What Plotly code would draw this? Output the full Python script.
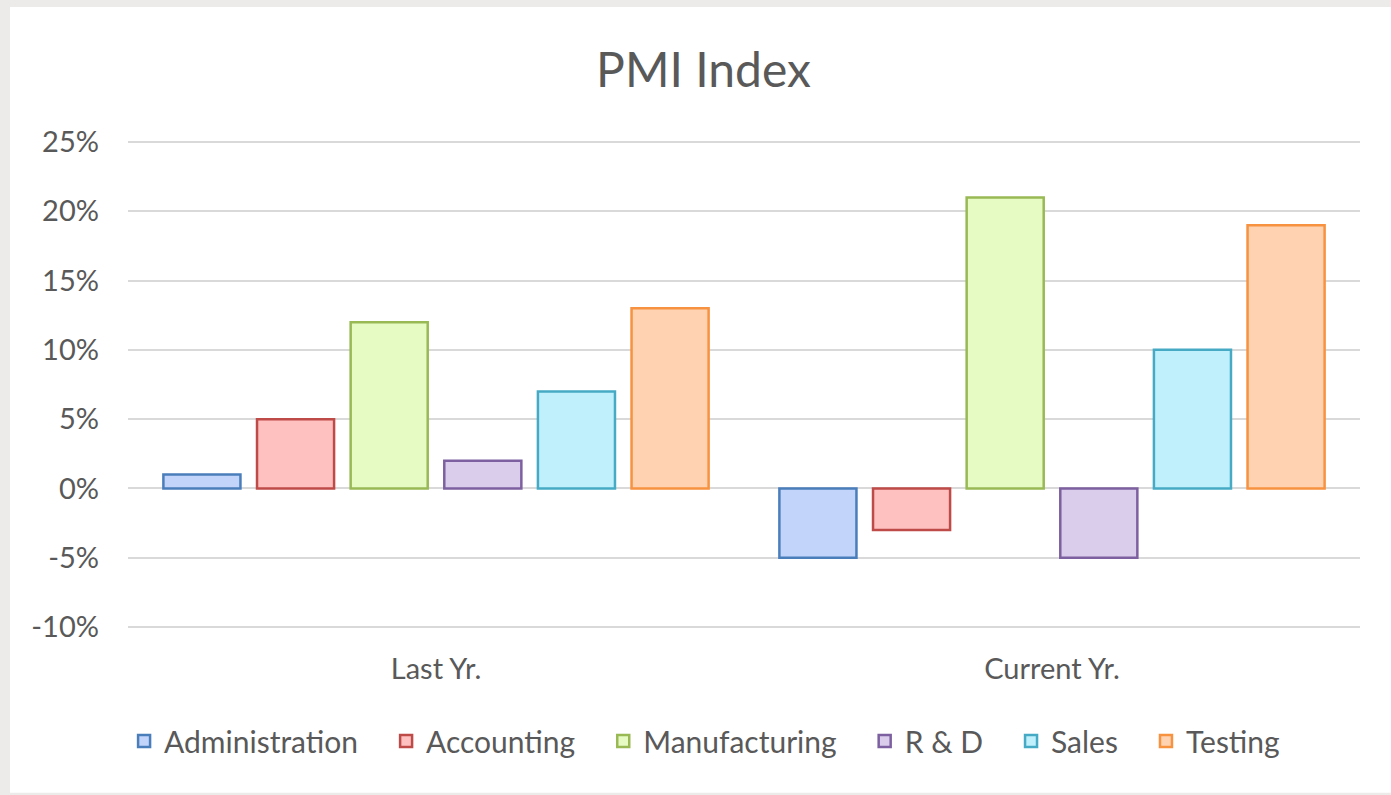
import plotly.graph_objects as go

categories = ["Last Yr.", "Current Yr."]
series_names = ["Administration", "Accounting", "Manufacturing", "R & D", "Sales", "Testing"]
administration = [0.01, -0.05]
accounting = [0.05, -0.03]
manufacturing = [0.12, 0.21]
r_and_d = [0.02, -0.05]
sales = [0.07, 0.10]
testing = [0.13, 0.19]
tick_values = [-0.10, -0.05, 0.0, 0.05, 0.10, 0.15, 0.20, 0.25]
tick_labels = ["-10%", "-5%", "0%", "5%", "10%", "15%", "20%", "25%"]

series_values = [administration, accounting, manufacturing, r_and_d, sales, testing]
fill_colors = ["#c2d4fa", "#ffc0c0", "#e6fbc4", "#dacdec", "#c0f0fc", "#ffd3b2"]
line_colors = ["#4a7ebb", "#be4b48", "#98b954", "#7d60a0", "#46aac5", "#f69240"]

FONT = "Lato"
TEXT = "#595959"
PAD = "\u00a0\u00a0\u00a0"

fig = go.Figure()
for i, (name, vals, fc, lc) in enumerate(zip(series_names, series_values, fill_colors, line_colors)):
    label = name + (PAD if i < len(series_names) - 1 else "")
    fig.add_trace(go.Bar(
        name=label, x=categories, y=vals,
        marker=dict(color=fc, line=dict(color=lc, width=2.5)),
    ))

# white chart area on light gray page background
fig.add_shape(type="rect", xref="paper", yref="paper",
              x0=-0.0958, x1=1.03, y0=-0.335, y1=1.272,
              fillcolor="white", line=dict(width=0), layer="below")

fig.update_layout(
    width=1391, height=795,
    paper_bgcolor="#ecebe9", plot_bgcolor="white",
    margin=dict(l=128, r=31, t=140, b=166),
    barmode="group", bargap=0.088, bargroupgap=0.177,
    font=dict(family=FONT, color=TEXT, size=28),
    title=dict(text="PMI Index", x=703.5 / 1391, xanchor="center", y=1 - 70 / 795, yanchor="middle",
               font=dict(family=FONT, size=48, color=TEXT)),
    legend=dict(orientation="h", x=0.468, xanchor="center", y=-0.229, yanchor="middle",
                font=dict(family=FONT, size=30, color=TEXT), bgcolor="rgba(0,0,0,0)",
                traceorder="normal"),
    showlegend=True,
)
fig.update_yaxes(range=[-0.1015, 0.2515], tickvals=tick_values, ticktext=tick_labels,
                 showgrid=True, gridcolor="#d9d9d9", gridwidth=2,
                 zeroline=True, zerolinecolor="#d9d9d9", zerolinewidth=2,
                 showline=False, ticks="", ticklabelstandoff=28,
                 tickfont=dict(family=FONT, size=29, color=TEXT))
fig.update_xaxes(showgrid=False, showline=False, ticks="", ticklabelstandoff=20,
                 tickfont=dict(family=FONT, size=29, color=TEXT))

fig.write_html("out.html", config={"displayModeBar": False},
               post_script="document.body.style.margin='0';")
